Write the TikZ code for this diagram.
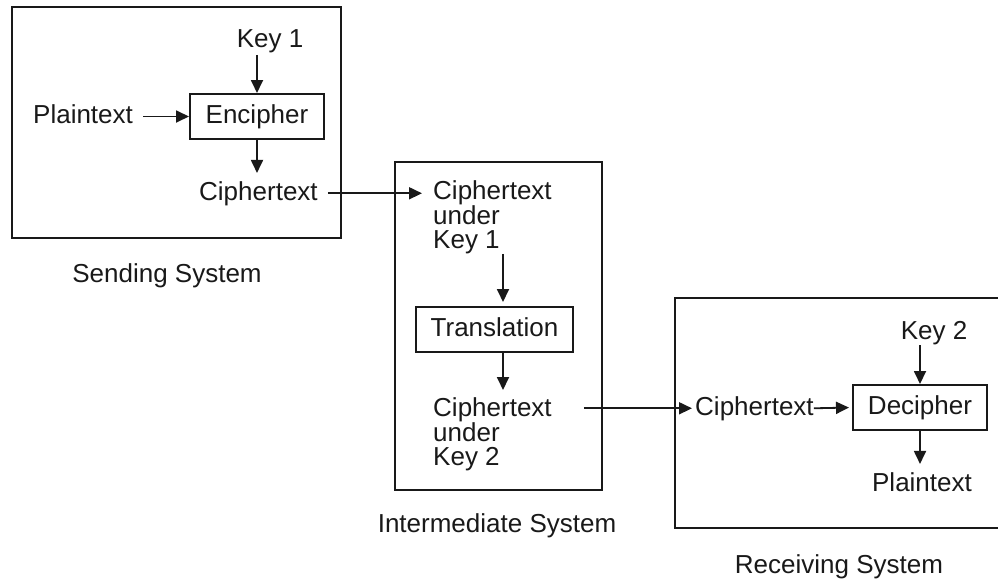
\documentclass[tikz,border=0pt]{standalone}
\usepackage{fontspec}
\setmainfont{Liberation Sans}
\usetikzlibrary{arrows.meta,calc}
\begin{document}
\begin{tikzpicture}[x=1pt,y=-1pt,
  every node/.style={font=\fontsize{26}{24}\selectfont, inner sep=0pt, text=black!90},
  frame/.style={draw=black!90, line width=2.2pt},
  procbox/.style={draw=black!90, line width=2pt, minimum width=#1, minimum height=45pt, text height=19pt, text depth=5.5pt},
  arr/.style={draw=black!90, line width=1.8pt, -{Triangle[length=13pt,width=12pt]}},
  ]
\useasboundingbox (0,0) rectangle (998,578);

% system frames
\draw[frame] (12,7) rectangle (341,238);
\draw[frame] (395,162) rectangle (602,490);
\draw[frame] (998,298) -- (675,298) -- (675,528) -- (998,528);

% sending system
\node[procbox=134pt] (enc) at (257,116.5) {Encipher};
\node[anchor=base west] (ps) at (33,123) {Plaintext};
\node[anchor=base] (k1) at (270,48) {Key 1};
\node[anchor=base west] (cs) at (199,200) {Ciphertext};
\node[anchor=base] (lsend) at (167,282) {Sending System};

% intermediate system
\node[procbox=157pt] (trans) at (494.5,329.5) {Translation};
\node[anchor=north west, align=left] (ck1) at (433,180) {Ciphertext\\under\\Key 1};
\node[anchor=north west, align=left] (ck2) at (433,397) {Ciphertext\\under\\Key 2};
\node[anchor=base] (linter) at (497,532) {Intermediate System};

% receiving system
\node[procbox=134pt] (dec) at (920,407.5) {Decipher};
\node[anchor=base west] (rc) at (695,415) {Ciphertext};
\node[anchor=base] (k2) at (934,339) {Key 2};
\node[anchor=base] (pr) at (922,491) {Plaintext};
\node[anchor=base] (lrecv) at (839,573) {Receiving System};

% helper coordinates
\coordinate (t1) at ([xshift=8.5pt]trans.north);
\coordinate (t2) at ([xshift=8.5pt]trans.south);
\coordinate (c2out) at ([xshift=32pt]ck2.north east);

% connectors
\draw[arr, shorten <=10pt] (ps.east |- enc.west) -- (enc.west);
\draw[arr] ($(k1.base -| enc.north)+(0,7)$) -- (enc.north);
\draw[arr, shorten >=8pt] (enc.south) -- (enc.south |- cs.north);
\draw[arr, shorten <=10pt, shorten >=11pt] (cs.east) -- (cs.east -| ck1.west);
\draw[arr, shorten >=4pt] (t1 |- ck1.south) -- (t1);
\draw[arr, shorten >=7pt] (t2) -- (t2 |- ck2.north);
\draw[arr, shorten >=3pt] (c2out |- rc.west) -- (rc.west);
\draw[arr, shorten >=3pt] (rc.east) -- (dec.west);
\draw[arr] ($(k2.base -| dec.north)+(0,6)$) -- (dec.north);
\draw[arr, shorten >=8pt] (dec.south) -- (dec.south |- pr.north);
\end{tikzpicture}
\end{document}
